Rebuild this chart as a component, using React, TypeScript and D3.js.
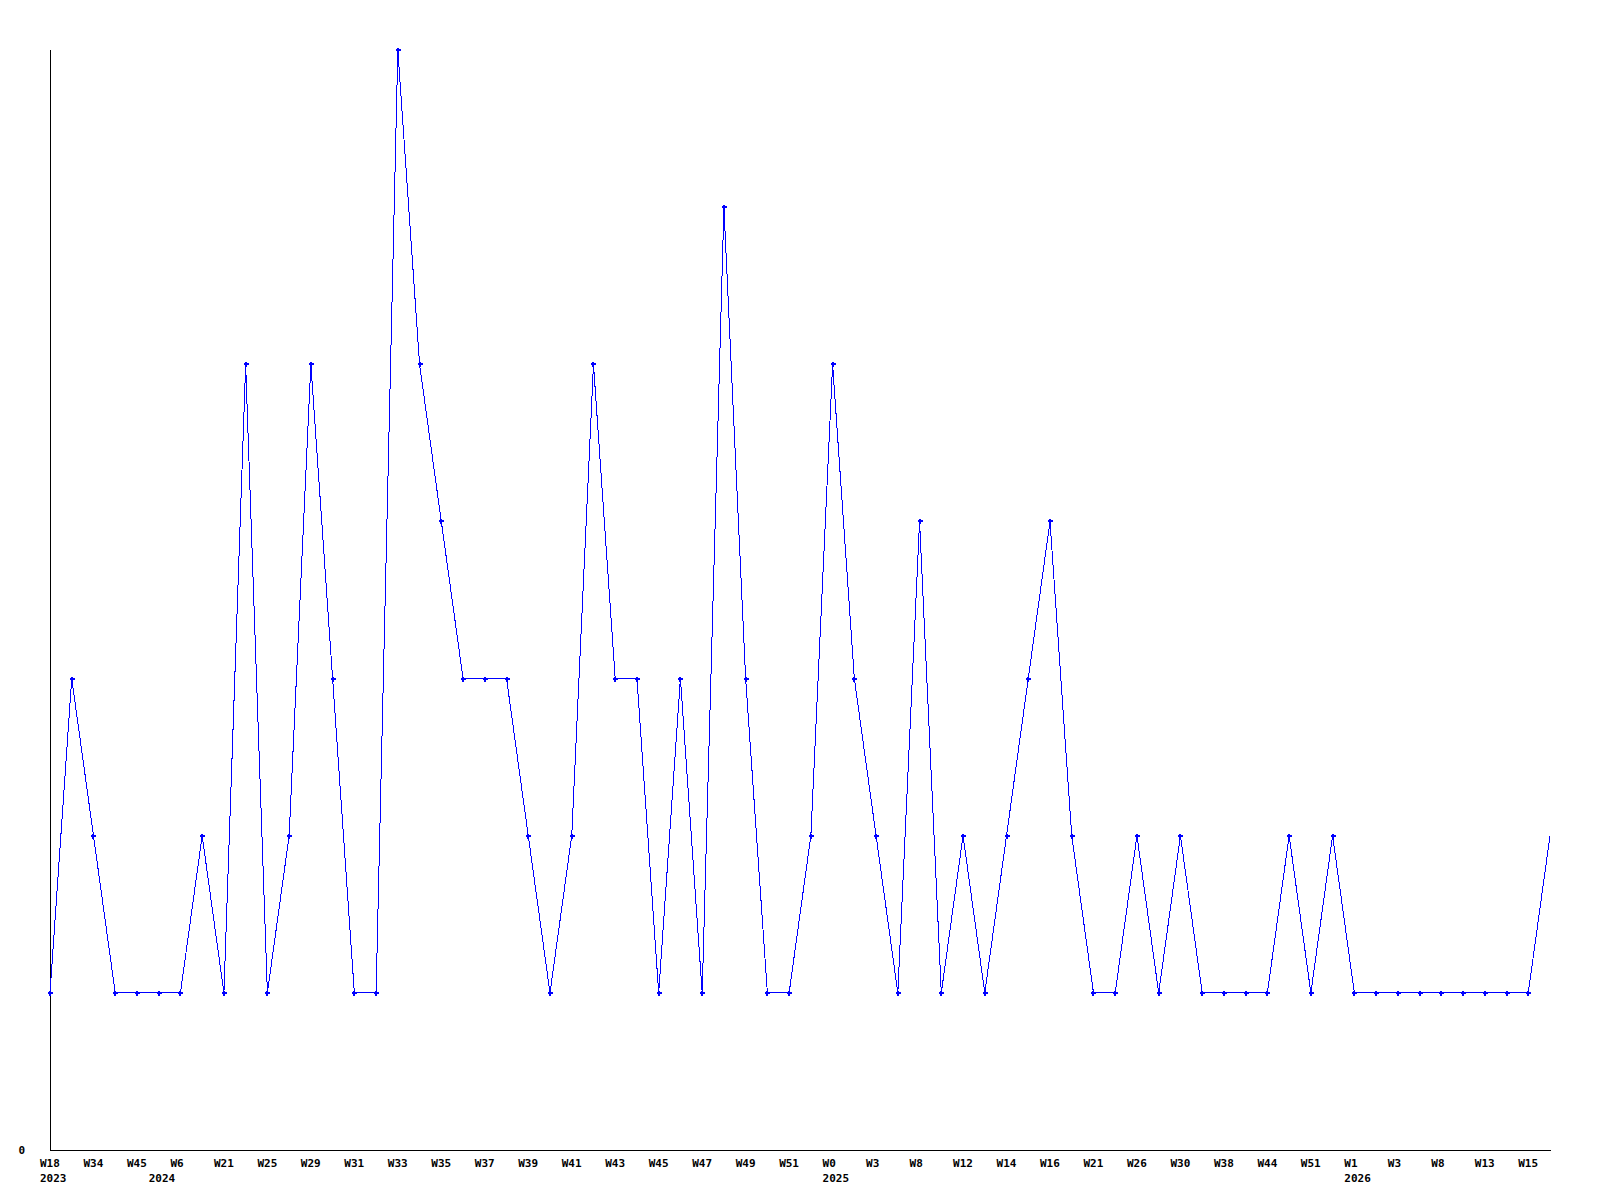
import React from "react";
import * as d3 from "d3";

const values: number[] = [
  1, 3, 2, 1, 1, 1, 1, 2, 1, 5,
  1, 2, 5, 3, 1, 1, 7, 5, 4, 3,
  3, 3, 2, 1, 2, 5, 3, 3, 1, 3,
  1, 6, 3, 1, 1, 2, 5, 3, 2, 1,
  4, 1, 2, 1, 2, 3, 4, 2, 1, 1,
  2, 1, 2, 1, 1, 1, 1, 2, 1, 2,
  1, 1, 1, 1, 1, 1, 1, 1, 1, 2,
];

const weekLabels: string[] = [
  "W18", "W34", "W45", "W6", "W21", "W25", "W29", "W31", "W33", "W35",
  "W37", "W39", "W41", "W43", "W45", "W47", "W49", "W51", "W0", "W3",
  "W8", "W12", "W14", "W16", "W21", "W26", "W30", "W38", "W44", "W51",
  "W1", "W3", "W8", "W13", "W15",
];

const yearLabels: { index: number; label: string }[] = [
  { index: 0, label: "2023" },
  { index: 5, label: "2024" },
  { index: 36, label: "2025" },
  { index: 60, label: "2026" },
];

const yMax = 7;

export default function App() {
  const width = 1600;
  const height = 1200;
  const left = 50;
  const right = 1550;
  const top = 50;
  const bottom = 1150;

  const x = d3.scaleLinear().domain([0, values.length - 1]).range([left, right]);
  const y = d3.scaleLinear().domain([0, yMax]).range([bottom, top]);

  const line = d3
    .line<number>()
    .x((_, i) => x(i))
    .y((d) => y(d));

  const font = "'DejaVu Sans Mono', monospace";

  return (
    <svg
      width={width}
      height={height}
      style={{ position: "absolute", left: 0, top: 0, background: "#fff" }}
    >
      <rect x={0} y={0} width={width} height={height} fill="#fff" />
      {/* axes */}
      <line x1={left + 0.5} y1={top} x2={left + 0.5} y2={bottom + 0.5} stroke="#000" strokeWidth={1} />
      <line x1={left} y1={bottom + 0.5} x2={right + 1} y2={bottom + 0.5} stroke="#000" strokeWidth={1} />
      <text
        x={25}
        y={y(0) + 4}
        textAnchor="end"
        fontFamily={font}
        fontWeight="bold"
        fontSize={11}
        fill="#000"
      >
        0
      </text>
      {weekLabels.map((lab, k) => (
        <text
          key={"w" + k}
          x={x(k * 2) - 10}
          y={1167}
          fontFamily={font}
          fontWeight="bold"
          fontSize={11}
          fill="#000"
        >
          {lab}
        </text>
      ))}
      {yearLabels.map((yl) => (
        <text
          key={"y" + yl.label}
          x={x(yl.index) - 10}
          y={1182}
          fontFamily={font}
          fontWeight="bold"
          fontSize={11}
          fill="#000"
        >
          {yl.label}
        </text>
      ))}
      {/* series */}
      <path
        d={line(values) || ""}
        fill="none"
        stroke="#0000ff"
        strokeWidth={1}
        shapeRendering="crispEdges"
      />
      {values.slice(0, values.length - 1).map((v, i) => {
        const cx = Math.round(x(i));
        const cy = Math.round(y(v));
        return (
          <g key={"m" + i} fill="#0000ff">
            <rect x={cx - 2} y={cy - 1} width={5} height={2} />
            <rect x={cx - 1} y={cy - 2} width={2} height={5} />
          </g>
        );
      })}
    </svg>
  );
}
